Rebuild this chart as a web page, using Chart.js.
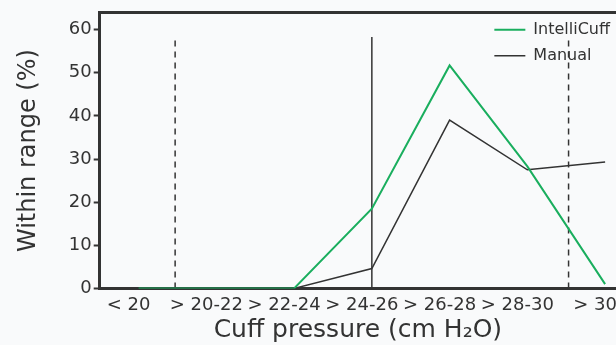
<!DOCTYPE html>
<html>
<head>
<meta charset="utf-8">
<script src="https://cdn.jsdelivr.net/npm/chart.js@4.4.1/dist/chart.umd.min.js"></script>
<style>
  html, body { margin: 0; padding: 0; background: #f9fafb; }
  #wrap { width: 616px; height: 345px; }
</style>
</head>
<body>
<div id="wrap"><canvas id="cuffChart"></canvas></div>
<script>
// categories of cuff pressure
const categories = ['< 20', '> 20-22', '> 22-24', '> 24-26', '> 26-28', '> 28-30', '> 30'];
// percent of time within range
const intelliCuff = [0, 0, 0, 18.5, 51.7, 28.3, 1];
const manual = [0, 0, 0, 4.6, 39, 27.5, 29.3];
// reference lines (position on the category axis, top value)
const dashedLines = [0.47, 5.53];
const solidLines = [3];
const refTop = 58.3;

const yTicks = [0, 10, 20, 30, 40, 50, 60];

const GREEN = '#1aae5e';
const DARK = '#333333';
const FONT = 'DejaVu Sans';

function lineData(values) {
    return values.map((v, i) => ({ x: i, y: v }));
}

function refDataset(x, dashed) {
    return {
        label: '',
        data: [{ x: x, y: 0 }, { x: x, y: refTop }],
        borderColor: DARK,
        borderWidth: 1.5,
        borderDash: dashed ? [6, 5] : [],
        pointRadius: 0
    };
}

const datasets = [
    {
        label: 'IntelliCuff',
        data: lineData(intelliCuff),
        borderColor: GREEN,
        backgroundColor: GREEN,
        borderWidth: 2,
        pointRadius: 0,
        tension: 0
    },
    {
        label: 'Manual',
        data: lineData(manual),
        borderColor: DARK,
        backgroundColor: DARK,
        borderWidth: 1.5,
        pointRadius: 0,
        tension: 0
    }
];
dashedLines.forEach(x => datasets.push(refDataset(x, true)));
solidLines.forEach(x => datasets.push(refDataset(x, false)));

// put the legend in the top right corner of the plot
const legendCorner = {
    id: 'legendCorner',
    afterLayout(chart) {
        const lg = chart.legend;
        const area = chart.chartArea;
        const w = lg.width;
        const h = lg.height;
        lg.left = area.right - w + 4;
        lg.right = area.right + 4;
        lg.top = area.top - 1;
        lg.bottom = lg.top + h;
    }
};

new Chart(document.getElementById('cuffChart'), {
    type: 'line',
    data: { datasets: datasets },
    plugins: [legendCorner],
    options: {
        responsive: true,
        maintainAspectRatio: false,
        animation: false,
        layout: { padding: { left: 14, right: 0, top: 3, bottom: 0 } },
        plugins: {
            tooltip: { enabled: false },
            legend: {
                position: 'chartArea',
                align: 'start',
                labels: {
                    filter: item => item.text !== '',
                    usePointStyle: true,
                    pointStyle: 'line',
                    pointStyleWidth: 31,
                    boxHeight: 16,
                    padding: 10,
                    color: DARK,
                    font: { family: FONT, size: 16 }
                }
            }
        },
        scales: {
            x: {
                type: 'linear',
                min: -0.5,
                max: 6.14,
                afterBuildTicks: axis => {
                    axis.ticks = categories.map((c, i) => ({ value: i }));
                },
                afterFit: axis => {
                    axis.paddingRight = 0;
                },
                grid: { display: false },
                border: { display: true, color: DARK, width: 3 },
                ticks: {
                    autoSkip: false,
                    maxRotation: 0,
                    labelOffset: -10,
                    padding: -2,
                    color: DARK,
                    font: { family: FONT, size: 18 },
                    callback: v => categories[v]
                },
                title: {
                    display: true,
                    text: 'Cuff pressure (cm H₂O)',
                    color: DARK,
                    font: { family: FONT, size: 25 },
                    padding: { top: 1, bottom: 0 }
                }
            },
            x2: {
                type: 'linear',
                position: 'top',
                min: -0.5,
                max: 6.14,
                afterFit: axis => {
                    axis.height = 0;
                },
                grid: { display: false },
                border: { display: true, color: DARK, width: 3 },
                ticks: { display: false }
            },
            y: {
                min: 0,
                max: 63.9,
                afterBuildTicks: axis => {
                    axis.ticks = yTicks.map(v => ({ value: v }));
                },
                grid: {
                    drawOnChartArea: false,
                    tickLength: 6,
                    tickWidth: 2,
                    color: DARK
                },
                border: { display: true, color: DARK, width: 3 },
                ticks: {
                    padding: 2,
                    color: DARK,
                    font: { family: FONT, size: 18 }
                },
                title: {
                    display: true,
                    text: 'Within range (%)',
                    color: DARK,
                    font: { family: FONT, size: 24 },
                    padding: { top: 0, bottom: 24 }
                }
            }
        }
    }
});
</script>
</body>
</html>
